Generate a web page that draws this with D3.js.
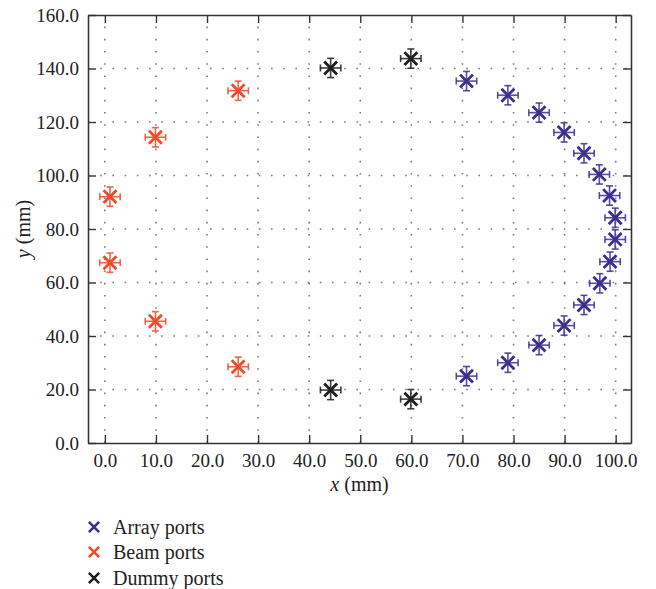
<!DOCTYPE html>
<html>
<head>
<meta charset="utf-8">
<script src="https://cdn.jsdelivr.net/npm/d3@7/dist/d3.min.js"></script>
<style>
  html, body { margin: 0; padding: 0; background: #fff; }
  svg { display: block; }
  text { font-family: "Liberation Serif", "DejaVu Serif", serif; fill: #222; }
</style>
</head>
<body>
<script>
// ---- Data ----
const arrayX = [70.8, 78.9, 85.0, 89.9, 93.8, 96.8, 98.8, 99.9, 99.9, 98.9, 96.9, 93.8, 89.9, 85.0, 78.9, 70.8];
const arrayY = [135.3, 130.0, 123.5, 116.1, 108.3, 100.4, 92.5, 84.2, 76.1, 67.8, 59.7, 51.6, 43.9, 36.6, 30.0, 25.0];
const beamX = [26.1, 9.9, 1.0, 1.0, 9.9, 26.1];
const beamY = [131.7, 114.3, 92.1, 67.4, 45.5, 28.5];
const dummyX = [44.2, 59.9, 44.2, 59.9];
const dummyY = [140.2, 143.7, 19.8, 16.4];
const xErr = 2.0;   // mm, half-width of horizontal error bars
const yErr = 3.6;   // mm, half-height of vertical error bars
const xTicks = [0, 10, 20, 30, 40, 50, 60, 70, 80, 90, 100];
const yTicks = [0, 20, 40, 60, 80, 100, 120, 140, 160];
const seriesNames = ["Array ports", "Beam ports", "Dummy ports"];
const seriesColors = ["#3b2f8e", "#f04a2b", "#1e1e1e"];

const series = [
  { name: seriesNames[0], color: seriesColors[0], xs: arrayX, ys: arrayY },
  { name: seriesNames[1], color: seriesColors[1], xs: beamX, ys: beamY },
  { name: seriesNames[2], color: seriesColors[2], xs: dummyX, ys: dummyY }
];

const W = 656, H = 589;
const m = { left: 88, right: 631, top: 15, bottom: 443 };

const svg = d3.select("body").append("svg").attr("width", W).attr("height", H);

const x = d3.scaleLinear().domain([-3.3, 103.0]).range([m.left, m.right]);
const y = d3.scaleLinear().domain([0, 160]).range([m.bottom, m.top]);

// grid
const grid = svg.append("g").attr("stroke", "#7a7a7a").attr("stroke-width", 1.6)
  .attr("stroke-dasharray", "1.6,10.6");
grid.selectAll("line.gx").data(xTicks).join("line")
  .attr("x1", d => x(d)).attr("x2", d => x(d))
  .attr("y1", m.bottom).attr("y2", m.top);
grid.selectAll("line.gy").data(yTicks.slice(1, -1)).join("line")
  .attr("x1", m.left).attr("x2", m.right)
  .attr("y1", d => y(d)).attr("y2", d => y(d));

// axes (inward ticks on all four sides)
const fmt = d3.format(".1f");
const axB = svg.append("g").attr("transform", `translate(0,${m.bottom})`)
  .call(d3.axisBottom(x).tickValues(xTicks).tickFormat(fmt).tickSizeInner(-8).tickSizeOuter(0).tickPadding(11));
const axT = svg.append("g").attr("transform", `translate(0,${m.top})`)
  .call(d3.axisTop(x).tickValues(xTicks).tickFormat("").tickSizeInner(-8).tickSizeOuter(0));
const axL = svg.append("g").attr("transform", `translate(${m.left},0)`)
  .call(d3.axisLeft(y).tickValues(yTicks).tickFormat(fmt).tickSizeInner(-8).tickSizeOuter(0).tickPadding(9));
const axR = svg.append("g").attr("transform", `translate(${m.right},0)`)
  .call(d3.axisRight(y).tickValues(yTicks).tickFormat("").tickSizeInner(-8).tickSizeOuter(0));

[axB, axT, axL, axR].forEach(a => {
  a.select(".domain").attr("stroke", "#333").attr("stroke-width", 1.6);
  a.selectAll(".tick line").attr("stroke", "#333").attr("stroke-width", 1.4);
  a.selectAll(".tick text").attr("font-size", 19).attr("fill", "#222")
    .attr("font-family", "'Liberation Serif', serif");
});
axB.selectAll(".tick text").attr("dy", "0.71em");

// axis titles
const xt = svg.append("text").attr("x", (m.left + m.right) / 2).attr("y", 491)
  .attr("text-anchor", "middle").attr("font-size", 20);
xt.append("tspan").attr("font-style", "italic").text("x");
xt.append("tspan").text(" (mm)");

const yt = svg.append("text").attr("transform", `translate(30,${(m.top + m.bottom) / 2}) rotate(-90)`)
  .attr("text-anchor", "middle").attr("font-size", 20);
yt.append("tspan").attr("font-style", "italic").text("y");
yt.append("tspan").text(" (mm)");

// points with error bars
const plot = svg.append("g");
series.forEach(s => {
  const pts = s.xs.map((v, i) => ({ x: v, y: s.ys[i] }));
  const g = plot.append("g");
  const eb = g.append("g").attr("stroke", s.color).attr("stroke-width", 1.6).attr("stroke-opacity", 0.85);
  pts.forEach(p => {
    const cx = x(p.x), cy = y(p.y);
    const x0 = x(p.x - xErr), x1 = x(p.x + xErr);
    const y0 = y(p.y - yErr), y1 = y(p.y + yErr);
    eb.append("line").attr("x1", x0).attr("x2", x1).attr("y1", cy).attr("y2", cy);
    eb.append("line").attr("x1", x0).attr("x2", x0).attr("y1", cy - 3.5).attr("y2", cy + 3.5);
    eb.append("line").attr("x1", x1).attr("x2", x1).attr("y1", cy - 3.5).attr("y2", cy + 3.5);
    eb.append("line").attr("x1", cx).attr("x2", cx).attr("y1", y0).attr("y2", y1);
    eb.append("line").attr("x1", cx - 3.5).attr("x2", cx + 3.5).attr("y1", y0).attr("y2", y0);
    eb.append("line").attr("x1", cx - 3.5).attr("x2", cx + 3.5).attr("y1", y1).attr("y2", y1);
  });
  g.selectAll("path.mk").data(pts).join("path")
    .attr("d", d3.symbol().type(d3.symbolX).size(110))
    .attr("transform", d => `translate(${x(d.x)},${y(d.y)})`)
    .attr("stroke", s.color).attr("stroke-width", 2.8).attr("fill", "none");
});

// legend
const leg = svg.append("g");
const legY = [527, 552, 578];
series.forEach((s, i) => {
  leg.append("path").attr("d", d3.symbol().type(d3.symbolX).size(70))
    .attr("transform", `translate(94,${legY[i]})`)
    .attr("stroke", s.color).attr("stroke-width", 2.6).attr("fill", "none");
  leg.append("text").attr("x", 113).attr("y", legY[i]).attr("dy", "0.35em")
    .attr("font-size", 20).text(s.name);
});
</script>
</body>
</html>
